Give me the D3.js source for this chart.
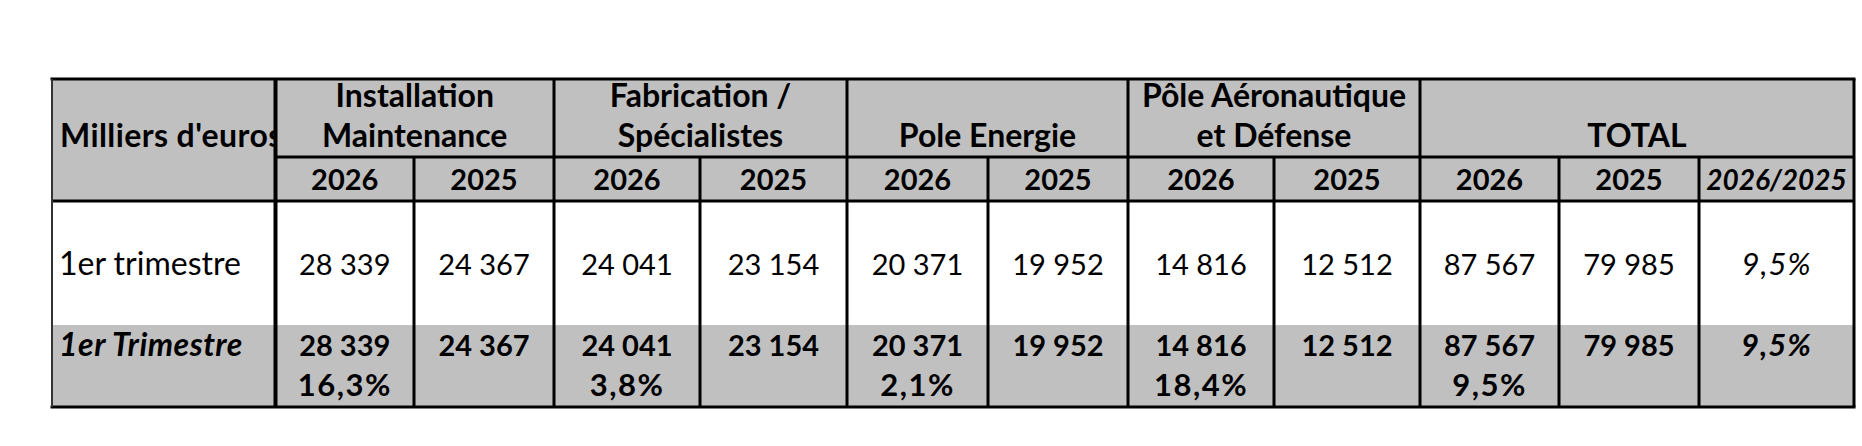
<!DOCTYPE html>
<html>
<head>
<meta charset="utf-8">
<script src="https://cdn.jsdelivr.net/npm/d3@7"></script>
<style>
  body { margin: 0; background: #fff; }
  svg text { font-family: Lato, 'Open Sans', sans-serif; fill: #000; }
</style>
</head>
<body>
<div id="tableau"></div>
<script>
const groupes = [
  ['Installation', 'Maintenance'],
  ['Fabrication /', 'Spécialistes'],
  ['', 'Pole Energie'],
  ['Pôle Aéronautique', 'et Défense'],
  ['', 'TOTAL']
]
const annees = ['2026', '2025']
const ratioLabel = '2026/2025'
const lignes = ['1er trimestre', '1er Trimestre']
const ca2026 = [28339, 24041, 20371, 14816, 87567]
const ca2025 = [24367, 23154, 19952, 12512, 79985]
const evolution = [16.3, 3.8, 2.1, 18.4, 9.5]
const evolTotal = 9.5

// Mise en page (bords des colonnes et des lignes, en px)
const ancho_total = 1862, alto_total = 446
const colEdges = [52, 275.5, 414, 554, 700, 847, 988, 1128, 1274, 1420, 1559, 1699, 1854]
const rowEdges = [79, 157, 201, 325, 407]
const gris = '#c0c0c0'
const fsMot = 32, fsNum = 29, fsPct = 31

const fr = d3.formatLocale({ decimal: ',', thousands: ' ', grouping: [3], currency: ['', ' €'] })
const fmtNum = fr.format(',d')
const fmtPct = d => fr.format('.1f')(d) + '%'

const svg = d3.select('#tableau').append('svg')
  .attr('width', ancho_total)
  .attr('height', alto_total)

// echelle des colonnes: index -> centre
const x = d3.scaleOrdinal()
  .domain(d3.range(colEdges.length - 1))
  .range(d3.range(colEdges.length - 1).map(i => (colEdges[i] + colEdges[i + 1]) / 2))

const left = colEdges[0], right = colEdges[colEdges.length - 1]

// fonds
svg.append('rect')
  .attr('x', left).attr('y', rowEdges[0])
  .attr('width', right - left).attr('height', rowEdges[2] - rowEdges[0])
  .attr('fill', gris)
svg.append('rect')
  .attr('x', left).attr('y', rowEdges[3])
  .attr('width', right - left).attr('height', rowEdges[4] - rowEdges[3])
  .attr('fill', gris)

// texte utilitaire
function txt(xp, yp, s, opts = {}) {
  return svg.append('text')
    .attr('x', xp).attr('y', yp)
    .attr('text-anchor', opts.anchor || 'middle')
    .attr('font-size', opts.size || fsMot)
    .attr('font-weight', opts.bold ? 700 : 400)
    .attr('font-style', opts.italic ? 'italic' : 'normal')
    .attr('letter-spacing', opts.ls || 0)
    .text(s)
}

// entete: "Milliers d'euros" coupe par la colonne
svg.append('clipPath').attr('id', 'clip0')
  .append('rect')
  .attr('x', left).attr('y', rowEdges[0])
  .attr('width', colEdges[1] - left - 1).attr('height', rowEdges[2] - rowEdges[0])
txt(left + 8, 147, "Milliers d'euros", { anchor: 'start', bold: true, ls: 0.4 })
  .attr('clip-path', 'url(#clip0)')

// groupes (2 colonnes chacun, TOTAL 3)
groupes.forEach((g, i) => {
  const c0 = 1 + i * 2
  const c1 = i === groupes.length - 1 ? c0 + 2 : c0 + 1
  const cx = (colEdges[c0] + colEdges[c1 + 1]) / 2
  if (g[0]) txt(cx, 107, g[0], { bold: true })
  txt(cx, 147, g[1], { bold: true })
})

// sous-entete annees
groupes.forEach((g, i) => {
  annees.forEach((a, j) => txt(x(1 + i * 2 + j), 190, a, { bold: true, size: fsNum }))
})
txt(x(11), 190, ratioLabel, { bold: true, italic: true, size: fsNum - 1 })

// ligne 1
txt(left + 7, 275, lignes[0], { anchor: 'start' })
ca2026.forEach((v, i) => txt(x(1 + i * 2), 275, fmtNum(v), { size: fsNum }))
ca2025.forEach((v, i) => txt(x(2 + i * 2), 275, fmtNum(v), { size: fsNum }))
txt(x(11), 275, fmtPct(evolTotal), { italic: true, size: fsPct, ls: 1 })

// ligne 2 (gras)
txt(left + 7, 356, lignes[1], { anchor: 'start', bold: true, italic: true, ls: 0.5 })
ca2026.forEach((v, i) => txt(x(1 + i * 2), 356, fmtNum(v), { bold: true, size: fsNum }))
ca2025.forEach((v, i) => txt(x(2 + i * 2), 356, fmtNum(v), { bold: true, size: fsNum }))
evolution.forEach((v, i) => txt(x(1 + i * 2), 396, fmtPct(v), { bold: true, size: fsPct, ls: 1.5 }))
txt(x(11), 356, fmtPct(evolTotal), { bold: true, italic: true, size: fsPct, ls: 1 })

// bordures
const trait = (x1, y1, x2, y2, w = 3, c = '#000') => svg.append('line')
  .attr('x1', x1).attr('y1', y1).attr('x2', x2).attr('y2', y2)
  .attr('stroke', c).attr('stroke-width', w)

trait(colEdges[1], rowEdges[1], right, rowEdges[1])
trait(left, rowEdges[2], right, rowEdges[2])
colEdges.slice(1, -1).forEach((e, i) => {
  const col = i + 1
  const debutGroupe = col === 1 || (col % 2 === 1 && col <= 9)
  trait(e, debutGroupe ? rowEdges[0] : rowEdges[1], e, rowEdges[4], col === 1 ? 4 : 3)
})
trait(left - 1.5, rowEdges[0], right + 1.5, rowEdges[0])
trait(left - 1.5, rowEdges[4], right + 1.5, rowEdges[4])
trait(right, rowEdges[0], right, rowEdges[4])
trait(left, rowEdges[0], left, rowEdges[4], 2, '#333')
</script>
</body>
</html>
